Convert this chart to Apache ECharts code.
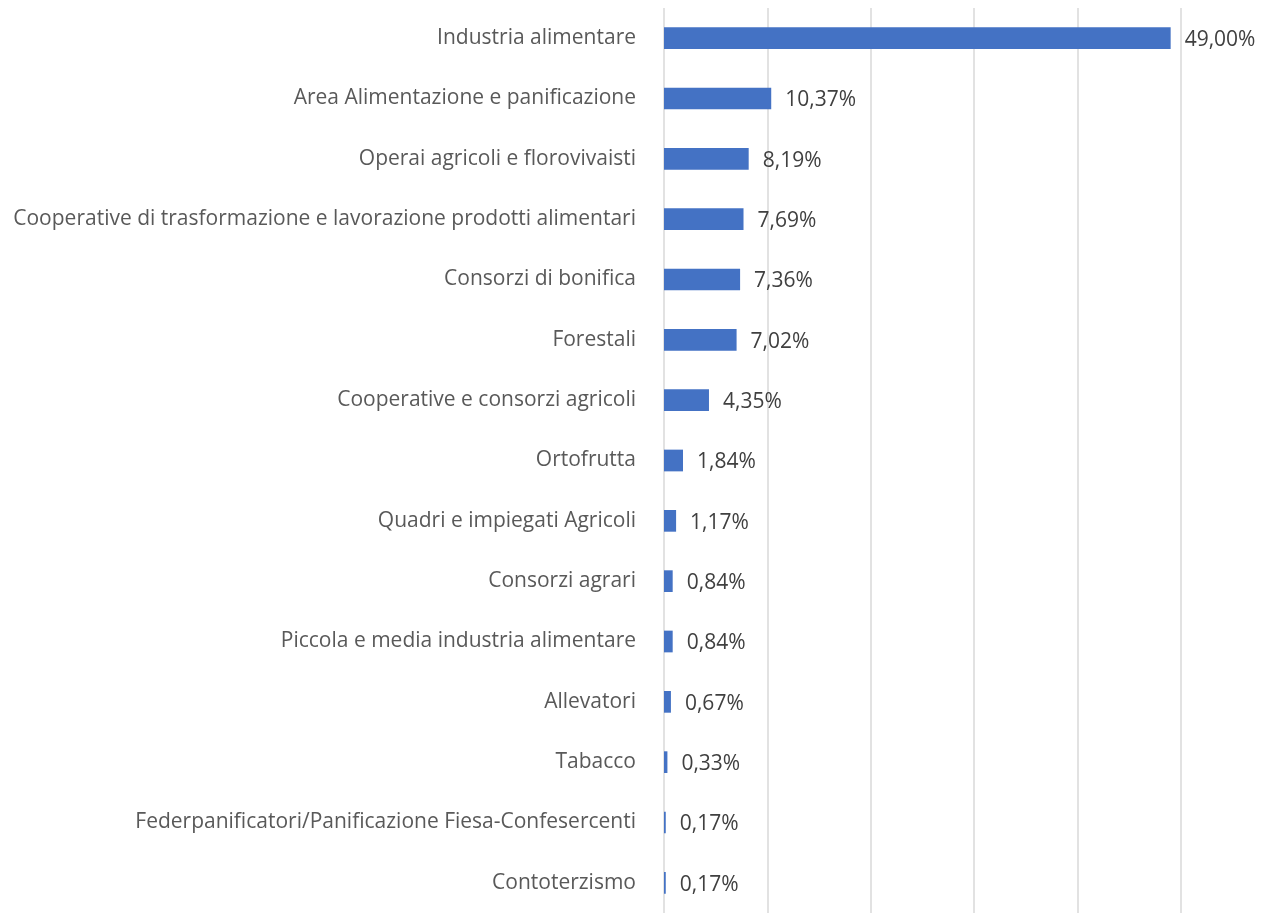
<!DOCTYPE html>
<html>
<head>
<meta charset="utf-8">
<script src="https://cdn.jsdelivr.net/npm/echarts@6/dist/echarts.min.js"></script>
<style>html,body{margin:0;padding:0;background:#fff}#c{width:1268px;height:913px}</style>
</head>
<body>
<div id="c"></div>
<script>
const categories = [
  "Industria alimentare",
  "Area Alimentazione e panificazione",
  "Operai agricoli e florovivaisti",
  "Cooperative di trasformazione e lavorazione prodotti alimentari",
  "Consorzi di bonifica",
  "Forestali",
  "Cooperative e consorzi agricoli",
  "Ortofrutta",
  "Quadri e impiegati Agricoli",
  "Consorzi agrari",
  "Piccola e media industria alimentare",
  "Allevatori",
  "Tabacco",
  "Federpanificatori/Panificazione Fiesa-Confesercenti",
  "Contoterzismo"
];
const values = [49.00, 10.37, 8.19, 7.69, 7.36, 7.02, 4.35, 1.84, 1.17, 0.84, 0.84, 0.67, 0.33, 0.17, 0.17];

const chart = echarts.init(document.getElementById('c'), null, {renderer: 'canvas'});
chart.setOption({
  animation: false,
  grid: {left: 664, right: 87, top: 8, height: 912, containLabel: false},
  xAxis: {
    type: 'value', min: 0, max: 50, interval: 10,
    axisLabel: {show: false}, axisLine: {show: false}, axisTick: {show: false},
    splitLine: {show: true, lineStyle: {color: '#d9d9d9', width: 1.5}}
  },
  yAxis: {
    type: 'category', data: categories, inverse: true,
    axisLine: {show: false}, axisTick: {show: false},
    axisLabel: {color: '#595959', fontSize: 21, fontFamily: 'Open Sans', margin: 28, padding: [3, 0, 0, 0]}
  },
  series: [{
    type: 'bar', data: values, barWidth: '36%',
    itemStyle: {color: '#4472c4'},
    label: {
      show: true, position: 'right', distance: 14, offset: [0, 2],
      color: '#404040', fontSize: 21, fontFamily: 'Open Sans',
      formatter: p => p.value.toFixed(2).replace('.', ',') + '%'
    }
  }]
});
</script>
</body>
</html>
